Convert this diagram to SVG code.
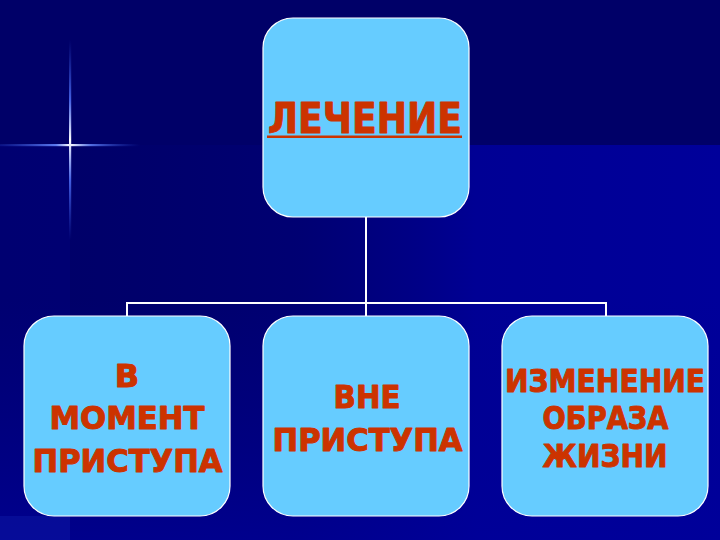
<svg xmlns="http://www.w3.org/2000/svg" width="720" height="540" viewBox="0 0 720 540">
  <defs>
    <linearGradient id="bgRight" x1="0" y1="0" x2="1" y2="0">
      <stop offset="0" stop-color="#00006E" stop-opacity="0"/>
      <stop offset="0.42" stop-color="#00007A" stop-opacity="0.6"/>
      <stop offset="0.66" stop-color="#000094"/>
      <stop offset="1" stop-color="#00009A"/>
    </linearGradient>
    <linearGradient id="bgBottom" x1="0" y1="0" x2="0" y2="1">
      <stop offset="0" stop-color="#000090" stop-opacity="0"/>
      <stop offset="1" stop-color="#00009A" stop-opacity="0.7"/>
    </linearGradient>
    <linearGradient id="sparkH" x1="0" y1="0" x2="1" y2="0">
      <stop offset="0" stop-color="#3355DD" stop-opacity="0.2"/>
      <stop offset="0.4" stop-color="#6688FF" stop-opacity="0.9"/>
      <stop offset="0.5" stop-color="#FFFFFF"/>
      <stop offset="0.65" stop-color="#6688FF" stop-opacity="0.8"/>
      <stop offset="1" stop-color="#2244CC" stop-opacity="0"/>
    </linearGradient>
    <linearGradient id="sparkV" x1="0" y1="0" x2="0" y2="1">
      <stop offset="0" stop-color="#3355DD" stop-opacity="0"/>
      <stop offset="0.3" stop-color="#5577FF" stop-opacity="0.8"/>
      <stop offset="0.5" stop-color="#FFFFFF"/>
      <stop offset="0.7" stop-color="#5577FF" stop-opacity="0.8"/>
      <stop offset="1" stop-color="#3355DD" stop-opacity="0"/>
    </linearGradient>
    <style>
      .box { fill: #66CCFF; stroke: #FFFFFF; stroke-width: 1.2; }
      .lbl { font-family: "DejaVu Sans", Verdana, sans-serif; font-weight: bold; fill: #CC3300; stroke: #CC3300; stroke-width: 1; stroke-linejoin: round; text-anchor: middle; }
      .conn { stroke: #FFFFFF; stroke-width: 2; fill: none; }
    </style>
  </defs>

  <!-- background -->
  <rect x="0" y="0" width="720" height="540" fill="#000068"/>
  <rect x="0" y="145" width="720" height="395" fill="url(#bgRight)"/>
  <rect x="0" y="145" width="70" height="395" fill="#000078" opacity="0.6"/>
  <rect x="0" y="300" width="720" height="240" fill="url(#bgBottom)"/>
  <rect x="0" y="516" width="70" height="24" fill="#0A14A0" opacity="0.6"/>

  <!-- sparkle -->
  <rect x="0" y="144" width="140" height="2.2" fill="url(#sparkH)"/>
  <rect x="69" y="40" width="2.2" height="200" fill="url(#sparkV)"/>

  <!-- connectors -->
  <g id="connectors">
    <path class="conn" d="M366 217 V303"/>
    <path class="conn" d="M127 317 V303 H606 V317"/>
    <path class="conn" d="M366 303 V317"/>
  </g>

  <!-- nodes -->
  <g id="node-lechenie">
    <rect class="box" x="263" y="18" width="206" height="199" rx="30" ry="30"/>
    <text class="lbl" x="365" y="133" font-size="42" textLength="194" lengthAdjust="spacingAndGlyphs">ЛЕЧЕНИЕ</text>
    <rect x="267" y="135.5" width="195" height="2.5" fill="#CC3300"/>
  </g>

  <g id="node-moment">
    <rect class="box" x="24" y="316" width="206" height="200" rx="30" ry="30"/>
    <text class="lbl" x="127" y="387" font-size="32">В</text>
    <text class="lbl" x="127" y="429" font-size="32" textLength="155" lengthAdjust="spacingAndGlyphs">МОМЕНТ</text>
    <text class="lbl" x="127.5" y="472" font-size="32" textLength="190" lengthAdjust="spacingAndGlyphs">ПРИСТУПА</text>
  </g>

  <g id="node-vne">
    <rect class="box" x="263" y="316" width="206" height="200" rx="30" ry="30"/>
    <text class="lbl" x="367" y="408" font-size="32" textLength="67" lengthAdjust="spacingAndGlyphs">ВНЕ</text>
    <text class="lbl" x="367.5" y="451" font-size="32" textLength="190" lengthAdjust="spacingAndGlyphs">ПРИСТУПА</text>
  </g>

  <g id="node-izmenenie">
    <rect class="box" x="502" y="316" width="206" height="200" rx="30" ry="30"/>
    <text class="lbl" x="605" y="392" font-size="32" textLength="200" lengthAdjust="spacingAndGlyphs">ИЗМЕНЕНИЕ</text>
    <text class="lbl" x="605.5" y="429" font-size="32" textLength="126" lengthAdjust="spacingAndGlyphs">ОБРАЗА</text>
    <text class="lbl" x="605" y="467" font-size="32" textLength="125" lengthAdjust="spacingAndGlyphs">ЖИЗНИ</text>
  </g>
</svg>
